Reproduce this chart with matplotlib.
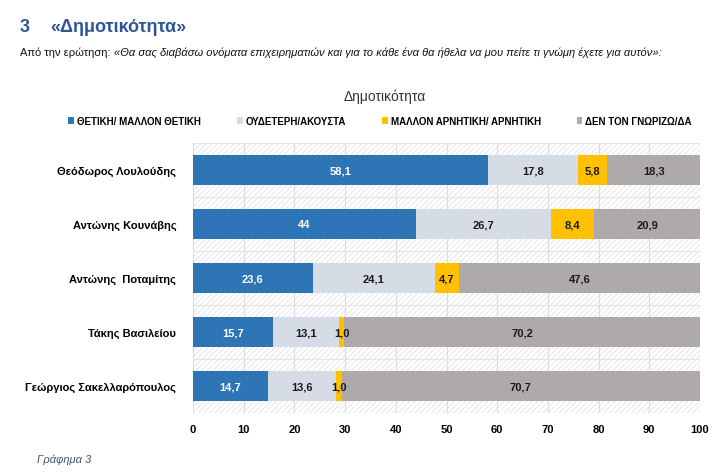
import matplotlib
matplotlib.use("Agg")
import matplotlib.pyplot as plt
from matplotlib.patches import Rectangle
import numpy as np

plt.rcParams['font.family'] = ['Liberation Sans', 'DejaVu Sans']
plt.rcParams['hatch.linewidth'] = 0.6

# ---- data ----
names = ["Θεόδωρος Λουλούδης", "Αντώνης Κουνάβης", "Αντώνης  Ποταμίτης",
         "Τάκης Βασιλείου", "Γεώργιος Σακελλαρόπουλος"]
series_names = ["ΘΕΤΙΚΗ/ ΜΑΛΛΟΝ ΘΕΤΙΚΗ", "ΟΥΔΕΤΕΡΗ/ΑΚΟΥΣΤΑ",
                "ΜΑΛΛΟΝ ΑΡΝΗΤΙΚΗ/ ΑΡΝΗΤΙΚΗ", "ΔΕΝ ΤΟΝ ΓΝΩΡΙΖΩ/ΔΑ"]
positive = ["58,1", "44", "23,6", "15,7", "14,7"]
neutral = ["17,8", "26,7", "24,1", "13,1", "13,6"]
negative = ["5,8", "8,4", "4,7", "1,0", "1,0"]
unknown = ["18,3", "20,9", "47,6", "70,2", "70,7"]
xticks = [0, 10, 20, 30, 40, 50, 60, 70, 80, 90, 100]

colors = ["#2E75B6", "#D6DCE5", "#FFC000", "#AEAAAA"]
label_colors = ["white", "#1a1a1a", "#1a1a1a", "#1a1a1a"]

fig = plt.figure(figsize=(7.28, 4.77), dpi=100)
ax = fig.add_axes([193/728, 1-414/477, (700-193)/728, (414-144)/477])

y = np.arange(len(names))
left = np.zeros(len(names))
all_series = [positive, neutral, negative, unknown]
handles = []
for s, (vals, c, lc) in enumerate(zip(all_series, colors, label_colors)):
    v = np.array([float(t.replace(",", ".")) for t in vals])
    bars = ax.barh(y, v, left=left, height=0.56, color=c, zorder=3,
                   label=series_names[s])
    handles.append(bars)
    for yi, li, vi, txt in zip(y, left, v, vals):
        ax.text(li + vi/2, yi, txt, ha="center", va="center", fontsize=8,
                fontweight="bold", color=lc, zorder=4)
    left = left + v

ax.set_xlim(0, 100)
ax.set_ylim(len(names) - 0.5, -0.5)
ax.set_xticks(xticks)
ax.set_xticklabels([str(t) for t in xticks], fontsize=8, fontweight="bold")
ax.set_yticks(y)
ax.set_yticklabels(names, fontsize=8, fontweight="bold")
ax.tick_params(length=0, pad=12)
ax.tick_params(axis="x", pad=8)
for sp in ax.spines.values():
    sp.set_visible(False)

# hatched background
ax.add_patch(Rectangle((0, 0), 1, 1, transform=ax.transAxes, facecolor="white",
                       edgecolor="#E3E3E3", hatch="//////", lw=0, zorder=0))
for xv in xticks:
    ax.axvline(xv, color="#DDDDDD", lw=0.8, zorder=1)
for yb in np.arange(-0.5, len(names), 1.0):
    ax.axhline(yb, color="#E4E4E4", lw=0.8, zorder=1)

# legend
fig.legend(handles=handles, loc="center", bbox_to_anchor=(380/728, 1-122/477),
           ncol=4, frameon=False, handlelength=0.6, handleheight=0.6,
           handletextpad=0.3, columnspacing=3.7,
           prop={"size": 7, "weight": "bold"})

# chart title
fig.text(385/728, 1-97/477, "Δημοτικότητα", ha="center", va="center", fontsize=10,
         color="#333333")

# heading
fig.text(20/728, 1-27/477, "3", ha="left", va="center", fontsize=13,
         fontweight="bold", color="#2F5597")
fig.text(50/728, 1-27/477, "«Δημοτικότητα»", ha="left", va="center", fontsize=13,
         fontweight="bold", color="#2F5597")

t1 = fig.text(20/728, 1-53/477, "Από την ερώτηση: ", ha="left", va="center",
              fontsize=8, color="#111111")
fig.add_artist(plt.Annotation(
    "«Θα σας διαβάσω ονόματα επιχειρηματιών και για το κάθε ένα θα ήθελα να μου πείτε τι γνώμη έχετε για αυτόν»:",
    xy=(1, 0), xycoords=t1, ha="left", va="bottom", fontsize=8,
    style="italic", color="#111111", annotation_clip=False))

fig.text(37/728, 1-460/477, "Γράφημα 3", ha="left", va="center", fontsize=8,
         style="italic", color="#44546A")

fig.savefig("out.png", dpi=100)
